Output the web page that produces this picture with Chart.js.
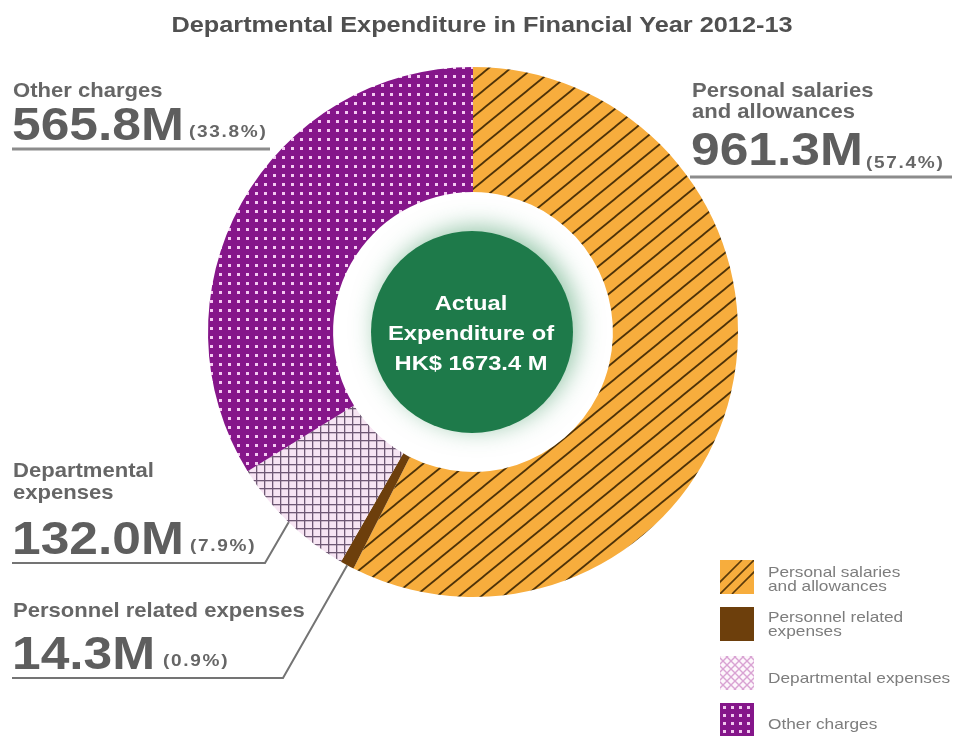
<!DOCTYPE html>
<html>
<head>
<meta charset="utf-8">
<script src="https://cdn.jsdelivr.net/npm/chart.js@4.4.1/dist/chart.umd.min.js"></script>
<style>
html, body { margin: 0; padding: 0; background: #fff; }
#wrap { position: relative; width: 959px; height: 736px; overflow: hidden; font-family: "Liberation Sans", Arial, sans-serif; }
#c { position: absolute; left: 0; top: 0; }
.t { position: absolute; white-space: nowrap; transform-origin: 0 0; }
.sw { position: absolute; }
</style>
</head>
<body>
<div id="wrap"><canvas id="c" width="959" height="736"></canvas></div>
<script>
// data
const titleText = "Departmental Expenditure in Financial Year 2012-13";
const labels = ["Personal salaries and allowances", "Personnel related expenses", "Departmental expenses", "Other charges"];
const amounts = [961.3, 14.3, 132.0, 565.8];
const shares = ["57.4%", "0.9%", "7.9%", "33.8%"];
const totalText = ["Actual", "Expenditure of", "HK$ 1673.4 M"];

// callout text blocks around the ring (index into labels)
const callouts = [
  { i: 3, lines: ["Other charges"], x: 13, nameBase: [97], numBase: 140, pctX: 189, pctBase: 137, ux1: 12, ux2: 270, uy: 149, lw: 3, leader: false },
  { i: 0, lines: ["Personal salaries", "and allowances"], x: 692, nameBase: [97, 118], numBase: 165, pctX: 866, pctBase: 168, ux1: 690, ux2: 952, uy: 177, lw: 3, leader: false },
  { i: 2, lines: ["Departmental", "expenses"], x: 13, nameBase: [477, 499], numBase: 554, pctX: 190, pctBase: 551, ux1: 12, ux2: 265, uy: 563, lw: 2, leader: true },
  { i: 1, lines: ["Personnel related expenses"], x: 13, nameBase: [617], numBase: 669, pctX: 163, pctBase: 666, ux1: 12, ux2: 283, uy: 678, lw: 2, leader: true }
];

// legend rows
const legendRows = [
  { i: 0, lines: ["Personal salaries", "and allowances"], top: 560, base: [577, 591] },
  { i: 1, lines: ["Personnel related", "expenses"], top: 607, base: [622, 636] },
  { i: 2, lines: ["Departmental expenses"], top: 656, base: [683] },
  { i: 3, lines: ["Other charges"], top: 703, base: [729] }
];

const wrap = document.getElementById("wrap");

function put(txt, x, base, size, o) {
  const d = document.createElement("div");
  d.className = "t";
  d.textContent = txt;
  d.style.fontSize = size + "px";
  d.style.lineHeight = size + "px";
  d.style.top = (base - 0.8465 * size) + "px";
  d.style.left = x + "px";
  d.style.fontWeight = o.bold ? "bold" : "normal";
  d.style.color = o.color;
  if (o.ls) d.style.letterSpacing = o.ls + "px";
  const sx = o.sx || 1.1;
  if (o.center) {
    d.style.transformOrigin = "50% 0";
    d.style.transform = "translateX(-50%) scaleX(" + sx + ")";
  } else {
    d.style.transform = "scaleX(" + sx + ")";
  }
  if (o.z) d.style.zIndex = o.z;
  wrap.appendChild(d);
  return d;
}

function tile(w, h, paint) {
  const c = document.createElement("canvas");
  c.width = w; c.height = h;
  paint(c.getContext("2d"), w, h);
  return c;
}

// ring fills
function stripeTile() {
  return tile(22, 18, (g, w, h) => {
    g.fillStyle = "#f7ad3d"; g.fillRect(0, 0, w, h);
    g.strokeStyle = "#4d3208"; g.lineWidth = 1.8;
    for (let m = -1; m <= 1; m++) {
      g.beginPath();
      g.moveTo(-w, 2 * h + m * h);
      g.lineTo(2 * w, -h + m * h);
      g.stroke();
    }
  });
}
function gridTile() {
  return tile(8, 8, (g, w, h) => {
    g.fillStyle = "#f7e5f3"; g.fillRect(0, 0, w, h);
    g.fillStyle = "#6e5873";
    g.fillRect(0, 0, w, 1.3);
    g.fillRect(0, 0, 1.3, h);
  });
}
function dotTile() {
  return tile(9, 9, (g, w, h) => {
    g.fillStyle = "#85168a"; g.fillRect(0, 0, w, h);
    g.fillStyle = "#f4c9f2"; g.fillRect(3, 3, 3, 3);
  });
}

const ctx = document.getElementById("c").getContext("2d");
const fills = [
  ctx.createPattern(stripeTile(), "repeat"),
  "#6d3f0c",
  ctx.createPattern(gridTile(), "repeat"),
  ctx.createPattern(dotTile(), "repeat")
];

const extras = {
  id: "extras",
  afterDatasetsDraw(chart) {
    const g = chart.ctx;
    const arc0 = chart.getDatasetMeta(0).data[0];
    const cx = arc0.x, cy = arc0.y;
    // green disc with soft glow
    g.save();
    g.shadowColor = "rgba(40,140,80,0.5)";
    g.shadowBlur = 24;
    g.shadowOffsetX = 5;
    g.shadowOffsetY = -4;
    g.fillStyle = "#1e7a4a";
    g.beginPath();
    g.arc(cx - 1, cy, 101, 0, Math.PI * 2);
    g.fill();
    g.restore();

    // underlines and leader lines
    g.save();
    callouts.forEach(c => {
      g.strokeStyle = c.leader ? "#747474" : "#8c8c8c";
      g.lineWidth = c.lw;
      g.beginPath();
      g.moveTo(c.ux1, c.uy);
      g.lineTo(c.ux2, c.uy);
      if (c.leader) {
        const a = chart.getDatasetMeta(0).data[c.i];
        const p = a.getProps(["x", "y", "startAngle", "endAngle", "outerRadius"]);
        const mid = (p.startAngle + p.endAngle) / 2;
        g.lineTo(p.x + Math.cos(mid) * p.outerRadius, p.y + Math.sin(mid) * p.outerRadius);
      }
      g.stroke();
    });
    g.restore();
  }
};

new Chart(ctx, {
  type: "doughnut",
  data: {
    labels: labels,
    datasets: [{ data: amounts, backgroundColor: fills, borderWidth: 0 }]
  },
  options: {
    responsive: false,
    animation: false,
    events: [],
    cutout: "52.8%",
    layout: { padding: { left: 208, top: 67, right: 221, bottom: 139 } },
    plugins: { legend: { display: false }, tooltip: { enabled: false } }
  },
  plugins: [extras]
});

// title
put(titleText, 482, 33, 22, { bold: true, color: "#505050", center: true, sx: 1.15 });

// centre text
totalText.forEach((s, k) => put(s, 471, 310 + k * 30, 21, { bold: true, color: "#fff", center: true, sx: 1.13, z: 2 }));

// callouts
callouts.forEach(c => {
  c.lines.forEach((s, k) => put(s, c.x, c.nameBase[k], 21, { bold: true, color: "#666", sx: 1.05 }));
  put(amounts[c.i].toFixed(1) + "M", c.x - 1, c.numBase, 46, { bold: true, color: "#5e5e5e", sx: 1.12 });
  put("(" + shares[c.i] + ")", c.pctX, c.pctBase, 17, { bold: true, color: "#666", sx: 1.12, ls: 1.5 });
});

// legend swatches
function swatch(i, g, w, h) {
  if (i === 0) {
    g.fillStyle = "#f7ad3d"; g.fillRect(0, 0, w, h);
    g.strokeStyle = "#5a3a0a"; g.lineWidth = 1.6;
    [-12, 0, 12].forEach(o => { g.beginPath(); g.moveTo(o, h); g.lineTo(o + w, 0); g.stroke(); });
  } else if (i === 1) {
    g.fillStyle = "#6d3f0c"; g.fillRect(0, 0, w, h);
  } else if (i === 2) {
    g.fillStyle = "#fdf6fb"; g.fillRect(0, 0, w, h);
    g.strokeStyle = "#d9a3d3"; g.lineWidth = 1.4;
    for (let o = -w; o < 2 * w; o += 8) {
      g.beginPath(); g.moveTo(o, 0); g.lineTo(o + h, h); g.stroke();
      g.beginPath(); g.moveTo(o, h); g.lineTo(o + h, 0); g.stroke();
    }
  } else {
    g.fillStyle = "#85168a"; g.fillRect(0, 0, w, h);
    g.fillStyle = "#f1c8ef";
    for (let y = 3; y < h; y += 8) for (let x = 3; x < w; x += 8) g.fillRect(x, y, 3, 3);
  }
}
legendRows.forEach(r => {
  const c = tile(34, 34, (g, w, h) => swatch(r.i, g, w, h));
  c.className = "sw";
  c.style.left = "720px";
  c.style.top = r.top + "px";
  wrap.appendChild(c);
  r.lines.forEach((s, k) => put(s, 768, r.base[k], 15, { color: "#7d7d7d", sx: 1.15 }));
});
</script>
</body>
</html>
